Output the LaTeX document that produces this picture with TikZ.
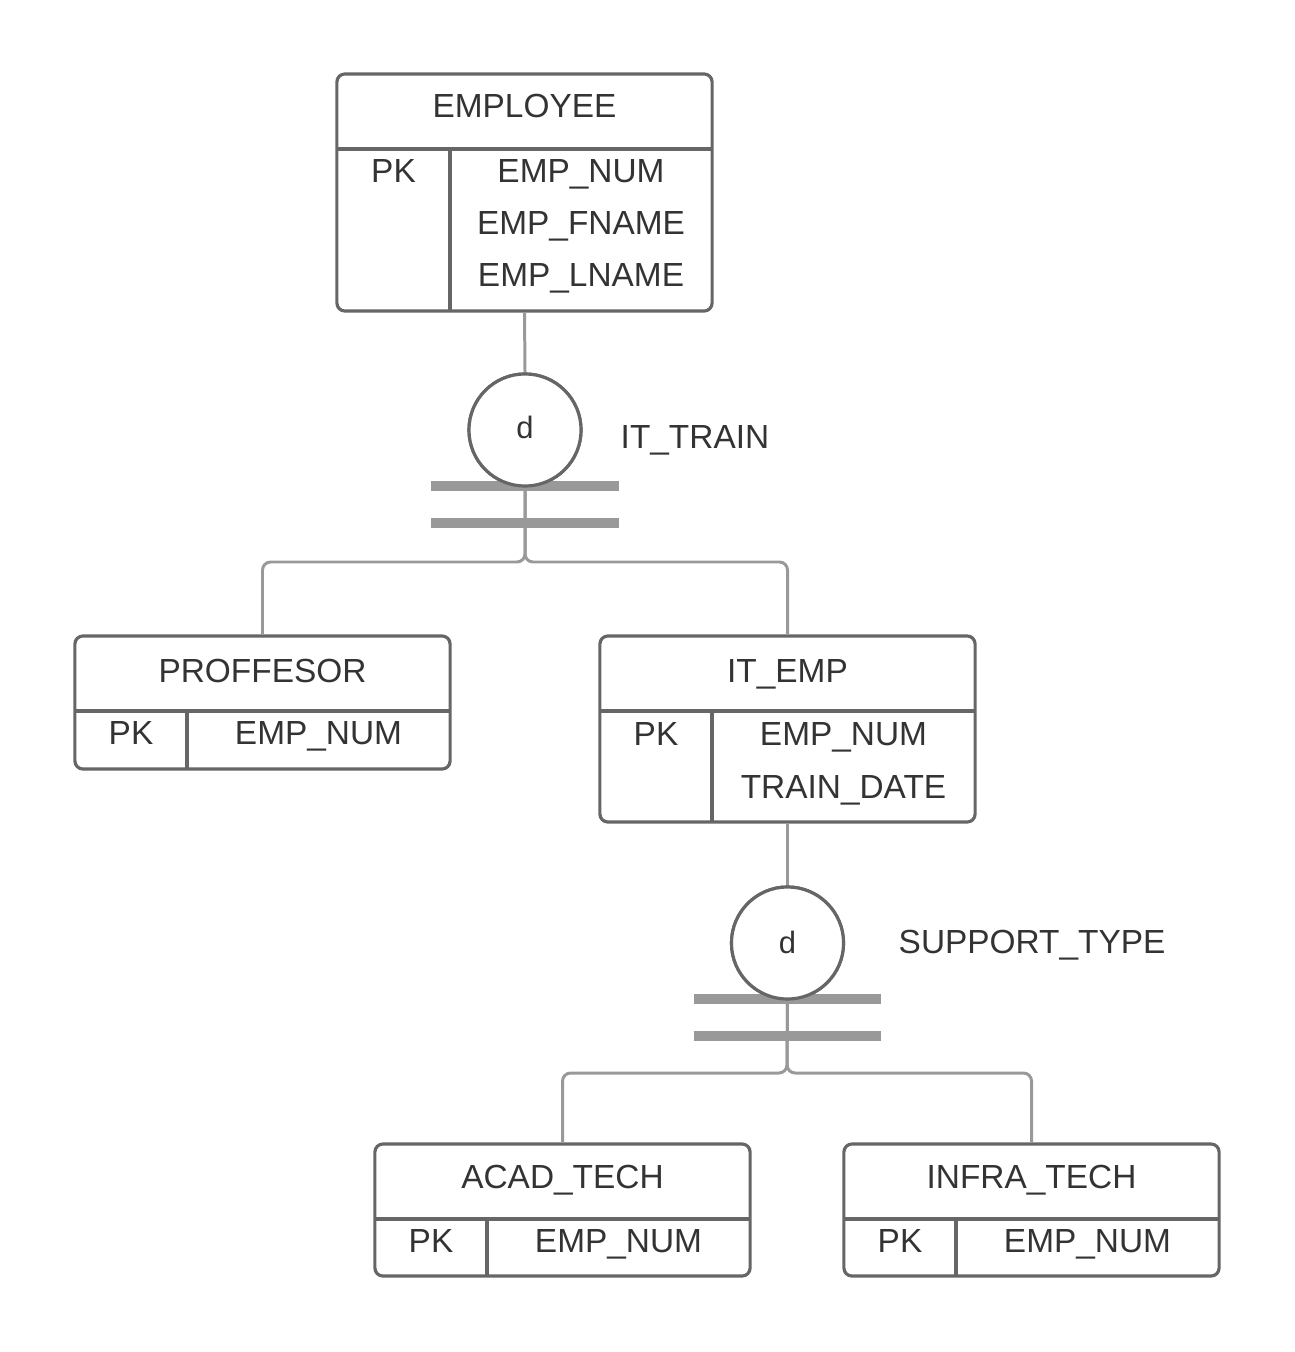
\documentclass[tikz,border=0pt]{standalone}
\usepackage{fontspec}
\setmainfont{Liberation Sans}
\usetikzlibrary{calc}
\definecolor{boxc}{HTML}{666666}
\definecolor{connc}{HTML}{999999}
\definecolor{txtc}{HTML}{333333}
\begin{document}
\begin{tikzpicture}[x=0.01cm,y=-0.01cm,
  ent/.style={draw=boxc, line width=0.9pt, rounded corners=2.3pt, inner sep=0pt, fill=white},
  div/.style={draw=boxc, line width=0.9pt},
  conn/.style={draw=connc, line width=0.85pt, rounded corners=2.3pt},
  bar/.style={draw=connc, line width=2.85pt},
  disc/.style={circle, draw=boxc, line width=0.9pt, fill=white, minimum size=1.12cm, inner sep=0pt, font=\fontsize{8.8pt}{10pt}\selectfont, text=txtc},
  lbl/.style={anchor=base, text=txtc, font=\fontsize{9.5pt}{11pt}\selectfont, inner sep=0pt},
  lbll/.style={lbl, anchor=base west}]
\useasboundingbox (0,0) rectangle (1294,1352);

\coordinate (j1) at (525,562);
\coordinate (j2) at (787,1073);
\node[ent, minimum width=3.75cm, minimum height=2.37cm] (emp) at (524.5,192.5) {};
\node[disc] (d1) at (525,430) {};
\node[ent, minimum width=3.75cm, minimum height=1.33cm] (prof) at (262.5,702.5) {};
\node[ent, minimum width=3.75cm, minimum height=1.86cm] (itemp) at (787.5,729) {};
\node[disc] (d2) at (787.5,943) {};
\node[ent, minimum width=3.75cm, minimum height=1.32cm] (acad) at (562.5,1210) {};
\node[ent, minimum width=3.75cm, minimum height=1.32cm] (infra) at (1031.5,1210) {};

% connectors
\draw[conn] (emp.south) -- (d1.north);
\draw[conn] (d1.south) -- (j1) -| (prof.north);
\draw[conn] (d1.south) -- (j1) -| (itemp.north);
\draw[conn] (itemp.south) -- (d2.north);
\draw[conn] (d2.south) -- (j2) -| (acad.north);
\draw[conn] (d2.south) -- (j2) -| (infra.north);

% bars
\draw[bar] (431,486) -- (619,486);
\draw[bar] (431,523) -- (619,523);
\draw[bar] (694,999) -- (881,999);
\draw[bar] (694,1036) -- (881,1036);

% circles on top
\node[disc] at (d1) {};
\node[disc] at (d2) {};
\node[lbl, font=\fontsize{8.8pt}{10pt}\selectfont] (d1t) at (525,438) {d};
\node[lbl, font=\fontsize{8.8pt}{10pt}\selectfont] (d2t) at (787.5,953) {d};

% EMPLOYEE
\draw[div] (337,149) -- (712,149);
\draw[div] (450,149) -- (450,311);
\node[lbl] (empT) at (524.5,118) {EMPLOYEE};
\node[lbl] (empPK) at (393.5,183) {PK};
\node[lbl] (empA) at (581,183) {EMP\_NUM};
\node[lbl] (empB) at (581,235) {EMP\_FNAME};
\node[lbl] (empC) at (581,287) {EMP\_LNAME};
\node[lbll] (it) at (620,448) {IT\_TRAIN};

% PROFFESOR
\draw[div] (75,711) -- (450,711);
\draw[div] (187,711) -- (187,769);
\node[lbl] (profT) at (262.5,682) {PROFFESOR};
\node[lbl] (profPK) at (131,744) {PK};
\node[lbl] (profA) at (318.5,744) {EMP\_NUM};

% IT_EMP
\draw[div] (600,711) -- (975,711);
\draw[div] (712,711) -- (712,822);
\node[lbl] (itT) at (787.5,682) {IT\_EMP};
\node[lbl] (itPK) at (656,745) {PK};
\node[lbl] (itA) at (843.5,745) {EMP\_NUM};
\node[lbl] (itB) at (843.5,798) {TRAIN\_DATE};
\node[lbll] (st) at (898,953) {SUPPORT\_TYPE};

% ACAD_TECH
\draw[div] (375,1219) -- (750,1219);
\draw[div] (487,1219) -- (487,1276);
\node[lbl] (acT) at (562.5,1188) {ACAD\_TECH};
\node[lbl] (acPK) at (431,1252) {PK};
\node[lbl] (acA) at (618.5,1252) {EMP\_NUM};

% INFRA_TECH
\draw[div] (844,1219) -- (1219,1219);
\draw[div] (956,1219) -- (956,1276);
\node[lbl] (inT) at (1031.5,1188) {INFRA\_TECH};
\node[lbl] (inPK) at (900,1252) {PK};
\node[lbl] (inA) at (1087.5,1252) {EMP\_NUM};
\end{tikzpicture}
\end{document}
